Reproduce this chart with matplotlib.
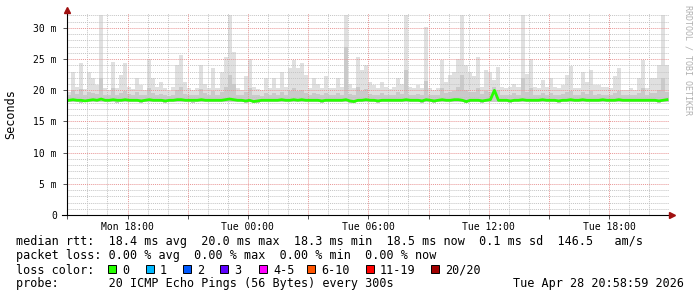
import datetime as dt
import matplotlib
matplotlib.use('Agg')
import matplotlib.pyplot as plt
import matplotlib.dates as mdates
from matplotlib.patches import Rectangle
from matplotlib.ticker import FuncFormatter, MultipleLocator

# 12-minute bins, Mon Apr 27 14:59 .. Tue Apr 28 20:59 (values in ms)
start = dt.datetime(2026, 4, 27, 14, 59)
step_min = 12

max_rtt = [
    19.8, 23.0, 20.6, 24.4, 20.2, 23.0, 22.0, 20.8, 32.1, 20.3,
    20.0, 24.6, 20.3, 22.5, 24.4, 20.6, 20.2, 22.0, 20.8, 20.0,
    25.1, 22.0, 20.6, 21.4, 20.3, 19.9, 20.6, 24.1, 25.7, 21.4,
    20.3, 20.0, 20.3, 24.1, 21.0, 20.3, 23.5, 20.3, 23.0, 25.4,
    32.1, 26.2, 20.3, 20.0, 22.3, 25.1, 20.6, 20.2, 20.0, 22.0,
    20.4, 22.0, 20.3, 23.0, 20.5, 23.5, 24.8, 23.5, 24.4, 22.5,
    20.4, 22.0, 21.0, 20.3, 22.3, 20.3, 20.3, 22.0, 20.6, 32.0,
    21.0, 20.3, 25.4, 23.3, 24.1, 21.4, 20.8, 20.4, 21.4, 20.6,
    20.2, 20.5, 22.0, 21.0, 32.1, 20.6, 20.4, 20.8, 20.3, 30.2,
    20.4, 20.0, 20.4, 24.8, 21.4, 22.5, 23.0, 25.1, 32.1, 24.0,
    23.0, 22.3, 25.4, 20.6, 23.3, 23.0, 21.7, 23.8, 20.6, 20.3,
    20.6, 21.0, 20.5, 32.1, 22.6, 25.1, 20.6, 20.3, 21.7, 20.5,
    22.0, 20.6, 20.3, 20.8, 22.5, 23.9, 20.3, 20.3, 23.0, 21.4,
    23.3, 20.8, 20.8, 20.6, 20.6, 20.3, 22.3, 23.6, 20.0, 20.0,
    20.3, 20.0, 22.0, 24.9, 20.3, 22.0, 22.0, 24.0, 32.1, 24.0,
]

p90_rtt = [
    19.3, 20.0, 19.4, 20.2, 19.3, 19.8, 19.6, 19.4, 22.0, 19.3,
    19.2, 20.3, 19.3, 19.6, 19.9, 19.4, 19.2, 19.7, 19.3, 19.2,
    20.4, 19.6, 19.3, 19.4, 19.2, 19.1, 19.3, 20.0, 20.6, 19.4,
    19.2, 19.2, 19.3, 20.2, 19.5, 19.2, 19.9, 19.3, 19.8, 20.5,
    22.5, 21.0, 19.3, 19.2, 19.7, 20.3, 19.3, 19.2, 19.1, 19.6,
    19.3, 19.6, 19.3, 19.8, 19.3, 19.9, 20.4, 19.9, 20.1, 19.6,
    19.3, 19.5, 19.4, 19.2, 19.6, 19.2, 19.3, 19.6, 19.3, 27.0,
    19.4, 19.2, 20.5, 19.9, 20.2, 19.4, 19.3, 19.3, 19.5, 19.3,
    19.2, 19.3, 19.8, 19.4, 23.3, 19.3, 19.3, 19.4, 19.2, 21.5,
    19.3, 19.2, 19.3, 20.4, 19.5, 19.8, 19.9, 20.5, 22.5, 20.0,
    19.8, 19.7, 20.4, 19.4, 19.9, 19.8, 20.6, 20.0, 19.3, 19.2,
    19.3, 19.5, 19.3, 22.0, 19.7, 20.3, 19.3, 19.2, 19.5, 19.3,
    19.6, 19.3, 19.2, 19.4, 19.7, 19.9, 19.2, 19.2, 19.8, 19.4,
    19.9, 19.3, 19.4, 19.3, 19.3, 19.2, 19.6, 19.9, 19.2, 19.2,
    19.3, 19.2, 19.6, 20.4, 19.3, 19.6, 19.6, 20.0, 22.0, 19.8,
]

median_rtt = [
    18.4, 18.5, 18.4, 18.4, 18.3, 18.4, 18.5, 18.4, 18.6, 18.4,
    18.4, 18.5, 18.4, 18.4, 18.5, 18.4, 18.4, 18.4, 18.3, 18.4,
    18.5, 18.4, 18.4, 18.4, 18.3, 18.4, 18.4, 18.5, 18.5, 18.4,
    18.4, 18.4, 18.4, 18.5, 18.4, 18.4, 18.4, 18.4, 18.4, 18.5,
    18.6, 18.5, 18.4, 18.4, 18.3, 18.4, 18.2, 18.3, 18.4, 18.4,
    18.4, 18.4, 18.4, 18.5, 18.4, 18.4, 18.5, 18.4, 18.5, 18.4,
    18.4, 18.4, 18.4, 18.3, 18.4, 18.4, 18.4, 18.4, 18.4, 18.5,
    18.3, 18.2, 18.4, 18.4, 18.5, 18.4, 18.4, 18.3, 18.4, 18.4,
    18.4, 18.4, 18.4, 18.4, 18.5, 18.4, 18.4, 18.4, 18.3, 18.5,
    18.4, 18.3, 18.4, 18.5, 18.4, 18.4, 18.5, 18.5, 18.4, 18.2,
    18.4, 18.4, 18.4, 18.3, 18.4, 18.5, 20.0, 18.4, 18.4, 18.4,
    18.3, 18.4, 18.4, 18.5, 18.4, 18.4, 18.4, 18.4, 18.5, 18.4,
    18.4, 18.4, 18.3, 18.4, 18.4, 18.5, 18.4, 18.4, 18.5, 18.4,
    18.4, 18.4, 18.4, 18.5, 18.4, 18.4, 18.4, 18.5, 18.4, 18.4,
    18.4, 18.4, 18.4, 18.4, 18.4, 18.4, 18.4, 18.3, 18.4, 18.5,
]

min_rtt = [
    18.1, 18.1, 18.1, 18.0, 18.1, 18.1, 18.1, 18.1, 18.2, 18.1,
    18.1, 18.1, 18.0, 18.1, 18.1, 18.1, 18.1, 18.1, 18.0, 18.1,
    18.1, 18.1, 18.1, 18.1, 18.0, 18.1, 18.1, 18.1, 18.1, 18.1,
    18.1, 18.0, 18.1, 18.1, 18.1, 18.1, 18.1, 18.1, 18.1, 18.1,
    18.2, 18.1, 18.1, 18.1, 18.0, 18.1, 17.9, 18.0, 18.1, 18.1,
    18.1, 18.1, 18.1, 18.1, 18.1, 18.1, 18.1, 18.1, 18.1, 18.1,
    18.1, 18.1, 18.1, 18.0, 18.1, 18.1, 18.1, 18.1, 18.1, 18.1,
    18.0, 17.9, 18.1, 18.1, 18.1, 18.1, 18.1, 18.0, 18.1, 18.1,
    18.1, 18.1, 18.1, 18.1, 18.1, 18.1, 18.1, 18.1, 18.0, 18.1,
    18.1, 18.0, 18.1, 18.1, 18.1, 18.1, 18.1, 18.1, 18.1, 17.9,
    18.1, 18.1, 18.1, 18.0, 18.1, 18.1, 18.2, 18.1, 18.1, 18.1,
    18.0, 18.1, 18.1, 18.1, 18.1, 18.1, 18.1, 18.1, 18.1, 18.1,
    18.1, 18.1, 18.0, 18.1, 18.1, 18.1, 18.1, 18.1, 18.1, 18.1,
    18.1, 18.1, 18.1, 18.1, 18.1, 18.1, 18.1, 18.1, 18.1, 18.1,
    18.1, 18.1, 18.1, 18.1, 18.1, 18.1, 18.1, 18.0, 18.1, 18.1,
]

stats_line = "median rtt:  18.4 ms avg  20.0 ms max  18.3 ms min  18.5 ms now  0.1 ms sd  146.5   am/s"
loss_line = "packet loss: 0.00 % avg  0.00 % max  0.00 % min  0.00 % now"
probe_line = "probe:       20 ICMP Echo Pings (56 Bytes) every 300s"
stamp = "Tue Apr 28 20:58:59 2026"
loss_labels = ['0', '1', '2', '3', '4-5', '6-10', '11-19', '20/20']
loss_colors = ['#26ff00', '#00b8ff', '#0059ff', '#5e00ff', '#ff00ff', '#ff5500', '#ff0000', '#a10000']
loss_box_x = [108, 146, 183, 220, 259, 307, 366, 431]

W, H = 697, 297
MONO = 'DejaVu Sans Mono'


def px(x):
    return x / W


def py(y):
    return 1 - y / H


n = len(max_rtt)
edges = [start + dt.timedelta(minutes=step_min * i) for i in range(n + 1)]
mids = [start + dt.timedelta(minutes=step_min * (i + 0.5)) for i in range(n)]

fig = plt.figure(figsize=(W / 100, H / 100), dpi=100)
fig.patch.set_facecolor('white')
ax = fig.add_axes([px(67), py(215), 602 / W, 202 / H])
ax.set_facecolor('white')

# smoke: all pings, then the inner 90 %
ax.fill_between(edges, min_rtt + [min_rtt[-1]], max_rtt + [max_rtt[-1]],
                step='post', color='#e0e0e0', lw=0, zorder=1)
ax.fill_between(edges, min_rtt + [min_rtt[-1]], p90_rtt + [p90_rtt[-1]],
                step='post', color='#cacaca', lw=0, zorder=1.1)
ax.plot(mids, median_rtt, color='#26ff00', lw=2.0, zorder=4)

ax.set_xlim(start, start + dt.timedelta(hours=30))
ax.set_ylim(0, 32.4)

ax.xaxis.set_major_locator(mdates.HourLocator(byhour=range(0, 24, 3)))
ax.xaxis.set_minor_locator(mdates.HourLocator())
ax.xaxis.set_major_formatter(FuncFormatter(
    lambda v, p: mdates.num2date(v).strftime('%a %H:%M') if mdates.num2date(v).hour % 6 == 0 else ''))
ax.yaxis.set_major_locator(MultipleLocator(5))
ax.yaxis.set_minor_locator(MultipleLocator(1))
ax.yaxis.set_major_formatter(FuncFormatter(lambda v, p: '0' if v == 0 else f'{int(round(v))} m'))

ax.set_axisbelow(False)
ax.grid(which='minor', color='#c4c4c4', linestyle=(0, (1, 1)), linewidth=0.7)
ax.grid(which='major', color='#e89595', linestyle=(0, (1, 1)), linewidth=0.7)

for s in ax.spines.values():
    s.set_visible(False)
ax.tick_params(which='minor', length=0)
ax.tick_params(which='major', length=3, width=0.7, color='#555555', direction='out')
ax.tick_params(axis='y', pad=4.3)
ax.tick_params(axis='x', pad=2.0)
for lab in ax.get_xticklabels() + ax.get_yticklabels():
    lab.set_fontfamily(MONO)
    lab.set_fontsize(7)

# axes with arrows
ax.plot([0, 0], [0, 1 + 5 / 202], color='black', lw=0.8, transform=ax.transAxes, clip_on=False, zorder=5)
ax.plot([-5 / 602, 1 + 4 / 602], [0, 0], color='black', lw=0.8, transform=ax.transAxes, clip_on=False, zorder=5)
ax.plot([0], [1 + 3 / 202], marker='^', ms=4, color='#a01010', transform=ax.transAxes, clip_on=False, zorder=6)
ax.plot([1 + 3 / 602], [0], marker='>', ms=4, color='#a01010', transform=ax.transAxes, clip_on=False, zorder=6)

fig.text(px(11), py(114), 'Seconds', rotation=90, ha='center', va='center', family=MONO, size=8.5)
fig.text(px(688), py(5), 'RRDTOOL / TOBI OETIKER', rotation=270, ha='center', va='top',
         family=MONO, size=6, color='#b0b0b0')

fig.text(px(15.5), py(245), stats_line, family=MONO, size=8.5, va='baseline')
fig.text(px(15.5), py(259.5), loss_line, family=MONO, size=8.5, va='baseline')
fig.text(px(15.5), py(273.5), 'loss color:', family=MONO, size=8.5, va='baseline')
for bx, lab, col in zip(loss_box_x, loss_labels, loss_colors):
    fig.add_artist(Rectangle((px(bx), py(273)), 8 / W, 8 / H, facecolor=col,
                             edgecolor='black', lw=0.7, transform=fig.transFigure))
    fig.text(px(bx + 14), py(273.5), lab, family=MONO, size=8.5, va='baseline')
fig.text(px(15.5), py(287.5), probe_line, family=MONO, size=8.5, va='baseline')
fig.text(px(513), py(287.5), stamp, family=MONO, size=8.5, va='baseline')

fig.savefig('out.png', dpi=100)
